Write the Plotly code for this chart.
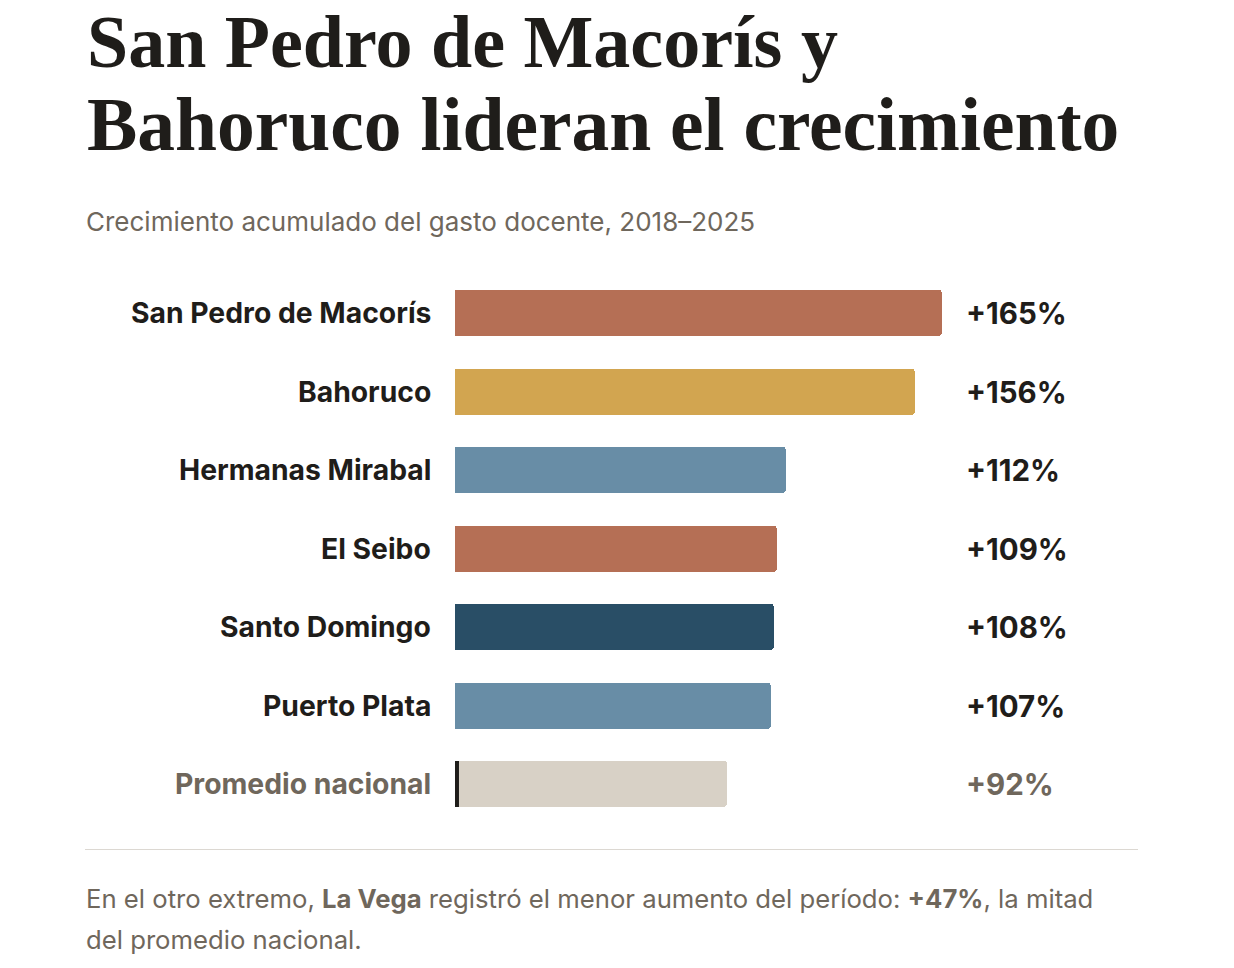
import plotly.graph_objects as go

categories = ["San Pedro de Macorís", "Bahoruco", "Hermanas Mirabal", "El Seibo",
              "Santo Domingo", "Puerto Plata", "Promedio nacional"]
values = [165, 156, 112, 109, 108, 107, 92]
value_labels = ["+165%", "+156%", "+112%", "+109%", "+108%", "+107%", "+92%"]
bar_colors = ["#B56F55", "#D2A550", "#688DA6", "#B56F55", "#294E66", "#688DA6", "#D8D1C6"]
label_colors = ["#1F1D1A"] * 6 + ["#6F675C"]
benchmark = "Promedio nacional"

W, H = 1234, 968
SANS = "Inter, Liberation Sans, Arial, sans-serif"
SERIF = "Liberation Serif, Times New Roman, serif"
DARK = "#1F1D1A"
GRAY = "#6F675C"

ypos = list(range(len(categories)))

fig = go.Figure()
fig.add_trace(go.Bar(
    x=values, y=ypos, orientation="h",
    marker=dict(color=bar_colors, line=dict(width=0), cornerradius=4),
    width=0.586, hoverinfo="skip", showlegend=False,
))

annotations = []
for i, (c, v, lab, col) in enumerate(zip(categories, values, value_labels, label_colors)):
    annotations.append(dict(x=433 / W, xref="paper", y=i, yref="y", text=f"<b>{c}</b>",
                            showarrow=False, xanchor="right", yanchor="middle",
                            font=dict(family=SANS, size=28.3, color=col)))
    annotations.append(dict(x=964 / W, xref="paper", y=i, yref="y", text=f"<b>{lab}</b>",
                            showarrow=False, xanchor="left", yanchor="middle",
                            font=dict(family=SANS, size=29.5, color=col)))

# title
annotations.append(dict(x=85 / W, xref="paper", y=1 + 1 / H, yref="paper",
                        text="<b>San Pedro de Macorís y</b>", showarrow=False,
                        xanchor="left", yanchor="top",
                        font=dict(family=SERIF, size=74, color=DARK)))
annotations.append(dict(x=85 / W, xref="paper", y=1 - 81 / H, yref="paper",
                        text="<b>Bahoruco lideran el crecimiento</b>", showarrow=False,
                        xanchor="left", yanchor="top",
                        font=dict(family=SERIF, size=75.5, color=DARK)))
# subtitle
annotations.append(dict(x=84 / W, xref="paper", y=1 - 221 / H, yref="paper",
                        text="Crecimiento acumulado del gasto docente, 2018–2025", showarrow=False,
                        xanchor="left", yanchor="middle",
                        font=dict(family=SANS, size=26, color=GRAY)))
# footer
annotations.append(dict(x=84 / W, xref="paper", y=1 - 898 / H, yref="paper",
                        text="En el otro extremo, <b>La Vega</b> registró el menor aumento del período: <b>+47%</b>, la mitad",
                        showarrow=False, xanchor="left", yanchor="middle",
                        font=dict(family=SANS, size=25.7, color=GRAY)))
annotations.append(dict(x=84 / W, xref="paper", y=1 - 939 / H, yref="paper",
                        text="del promedio nacional.",
                        showarrow=False, xanchor="left", yanchor="middle",
                        font=dict(family=SANS, size=25.7, color=GRAY)))

bi = categories.index(benchmark)
shapes = [
    dict(type="rect", xref="x", yref="y", x0=0, x1=1.35, y0=bi - 0.293, y1=bi + 0.293,
         fillcolor="#1F1D1A", line=dict(width=0), layer="above"),
    dict(type="line", xref="paper", yref="paper", x0=85 / W, x1=1138 / W,
         y0=1 - 849.5 / H, y1=1 - 849.5 / H, line=dict(color="#DCD8D2", width=1)),
]

y_top_px = 313 - 39.25
y_bot_px = 784 + 39.25
fig.update_layout(
    width=W, height=H, margin=dict(l=0, r=0, t=0, b=0),
    paper_bgcolor="white", plot_bgcolor="white",
    xaxis=dict(domain=[455 / W, 942 / W], range=[0, 165], visible=False, fixedrange=True),
    yaxis=dict(domain=[1 - y_bot_px / H, 1 - y_top_px / H], range=[6.5, -0.5],
               visible=False, fixedrange=True),
    annotations=annotations, shapes=shapes, bargap=0,
)

fig.write_html("out.html")
